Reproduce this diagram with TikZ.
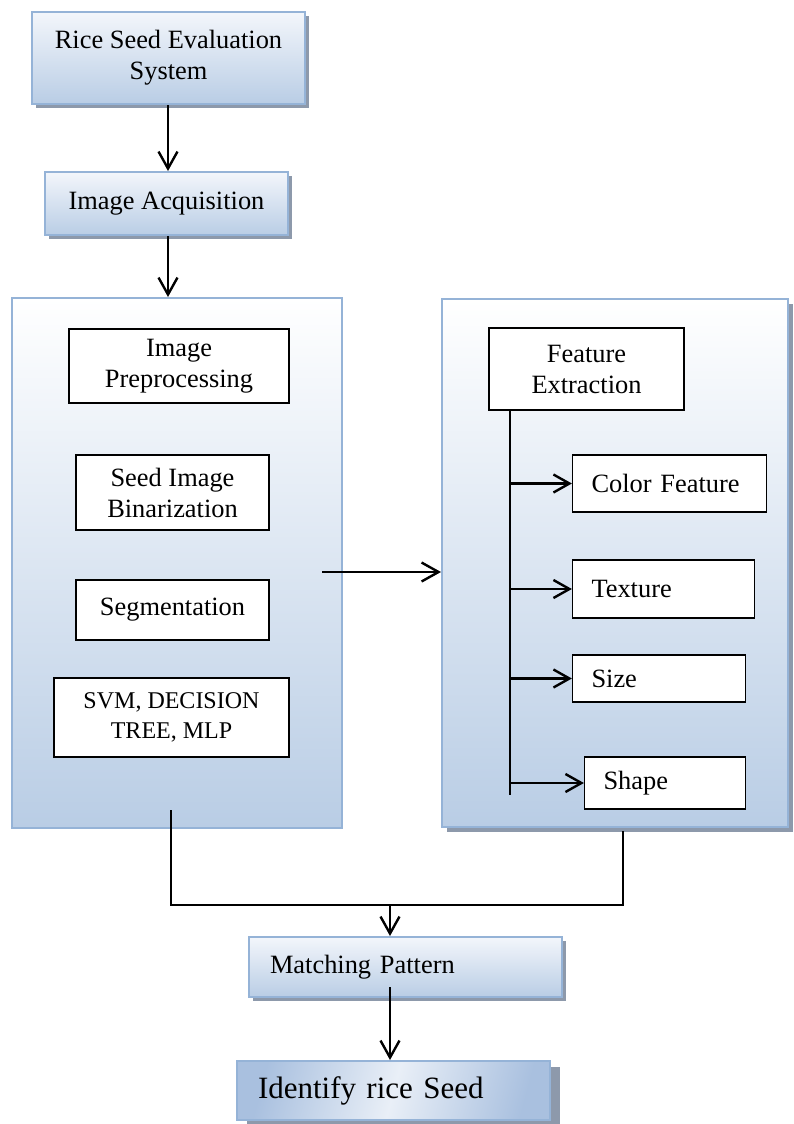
\documentclass[tikz,border=0pt]{standalone}
\usepackage{fontspec}
\setmainfont{Liberation Serif}
\usetikzlibrary{shadows,arrows.meta}

\definecolor{boxline}{HTML}{95B3D7}
\definecolor{boxlow}{HTML}{B9CDE5}
\definecolor{boxtop}{HTML}{F3F6FB}
\definecolor{boxshade}{HTML}{8D99AB}
\definecolor{identblue}{HTML}{A9C0DF}
\definecolor{identlight}{HTML}{E9EFF7}

\tikzset{
  txt/.style={font=\fontsize{13.2}{15.5}\selectfont},
  shadowed/.style={drop shadow={fill=boxshade, opacity=1, shadow xshift=#1, shadow yshift=-#1}},
  shadowed/.default=2pt,
  titlebox/.style={draw=boxline, line width=1pt, top color=boxtop, bottom color=boxlow, shadowed, align=center, txt},
  panel/.style={draw=boxline, line width=1pt, top color=white, bottom color=boxlow},
  stepbox/.style={draw, line width=0.6pt, fill=white, align=center, txt},
  featbox/.style={draw, line width=0.6pt, fill=white, align=left, inner xsep=9.5pt, text width=#1, txt},
  flow/.style={line width=1.2pt, -{Straight Barb[length=8.5pt,width=9.5pt]}},
  branch/.style={line width=1.2pt, -{Straight Barb[length=8pt,width=9pt]}},
  joint/.style={line width=0.6pt}
}

\begin{document}
\begin{tikzpicture}[x=0.5pt,y=-0.5pt]
\useasboundingbox (0,0) rectangle (793,1124);
% top of the chain
\node[titlebox, minimum width=136.5pt, minimum height=46pt] (rses) at (168.5,58) {Rice Seed Evaluation\\System};
\node[titlebox, minimum width=121.5pt, minimum height=31.5pt] (acq) at (166.5,203.5) {Image Acquisition};

% the two panels
\node[panel, minimum width=165pt, minimum height=265pt] (lp) at (177,563) {};
\node[panel, shadowed=2.5pt, minimum width=173pt, minimum height=264pt] (rp) at (615,563) {};

% left panel
\node[stepbox, minimum width=110pt, minimum height=37pt] (prep) at (179,366) {Image\\Preprocessing};
\node[stepbox, minimum width=96.5pt, minimum height=37.5pt] (bin) at (172.5,492.5) {Seed Image\\Binarization};
\node[stepbox, minimum width=96.5pt, minimum height=30pt] (seg) at (172.5,610) {Segmentation};
\node[stepbox, minimum width=117.5pt, minimum height=39.5pt, font=\fontsize{12}{15}\selectfont] (clf) at (171.5,717.5) {SVM, DECISION\\TREE, MLP};

% right panel
\node[stepbox, minimum width=97.5pt, minimum height=41pt] (feat) at (586.5,369) {Feature\\Extraction};
\node[featbox=78pt, minimum height=28.5pt] (color) at (669.5,483.5) {Color Feature};
\node[featbox=72pt, minimum height=29pt] (texture) at (663.5,589) {Texture};
\node[featbox=67.5pt, minimum height=23.5pt] (size) at (659,678.5) {Size};
\node[featbox=61.5pt, minimum height=26pt] (shape) at (665,783) {Shape};

% bottom of the chain
\node[titlebox, align=left, inner xsep=10.5pt, text width=135.5pt, minimum height=30pt] (match) at (405.5,967) {Matching Pattern};
\node[draw=boxline, line width=1pt, top color=identblue, bottom color=identblue, middle color=identlight, shading angle=75,
  drop shadow={fill=boxshade, opacity=1, shadow xshift=5pt, shadow yshift=-3pt},
  align=left, inner xsep=10.5pt, text width=135.5pt, minimum height=29.5pt,
  font=\fontsize{15.5}{18}\selectfont] (ident) at (393.5,1090.5) {Identify rice Seed};

\coordinate (lpout) at (322,572);
\coordinate (trunk) at (510,410);
\coordinate (trunkend) at (510,795);
\coordinate (lfoot) at (171,810);
\coordinate (rfoot) at (623,831);
\coordinate (join) at (390,905);
\coordinate (mp) at (390,987);

\draw[flow] (rses.south -| 168,0) -- (acq.north -| 168,0);
\draw[flow] (acq.south -| 168,0) -- (lp.north -| 168,0);
\draw[flow] (lpout) -- (lpout -| rp.west);

\draw[joint] (trunk) -- (trunkend);
\foreach \f in {color,texture,size,shape}
  \draw[branch] (trunk |- \f.west) -- (\f.west);

\draw[joint] (lfoot) -- (lfoot |- join) -- (rfoot |- join) -- (rfoot);
\draw[flow] (join) -- (join |- match.north);
\draw[flow] (mp) -- (mp |- ident.north);
\end{tikzpicture}
\end{document}
